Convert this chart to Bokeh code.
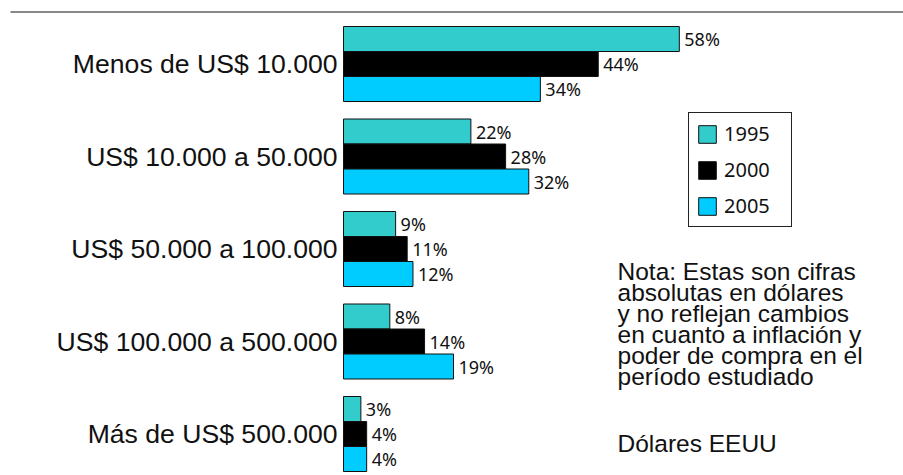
from bokeh.plotting import figure
from bokeh.models import ColumnDataSource, Range1d, Label, Legend
from bokeh.transform import dodge
from bokeh.core.properties import value
from bokeh.embed import file_html
from bokeh.resources import INLINE

categories = ["Menos de US$ 10.000", "US$ 10.000 a 50.000", "US$ 50.000 a 100.000",
              "US$ 100.000 a 500.000", "Más de US$ 500.000"]
years = ["1995", "2000", "2005"]
v1995 = [58, 22, 9, 8, 3]
v2000 = [44, 28, 11, 14, 4]
v2005 = [34, 32, 12, 19, 4]
note_text = ("Nota: Estas son cifras\nabsolutas en dólares\ny no reflejan cambios\n"
             "en cuanto a inflación y\npoder de compra en el\nperíodo estudiado")
currency_text = "Dólares EEUU"

colors = ["#33CCCC", "#000000", "#00CCFF"]
W, H = 903, 475
px_per = 5.79
x0 = -343 / px_per
grp = 92.5
y_top = -63.5 / grp
bar_h = 25 / grp


def xd(px):
    return x0 + px / px_per


def yd(py):
    return y_top + py / grp


p = figure(width=W, height=H, output_backend="svg", toolbar_location=None,
           x_range=Range1d(x0, x0 + W / px_per),
           y_range=Range1d(y_top + H / grp, y_top),
           x_axis_location=None, y_axis_location=None, min_border=0,
           outline_line_color=None)
p.xgrid.visible = False
p.ygrid.visible = False

# top rule
p.segment(x0=xd(10), x1=xd(903), y0=yd(11.5), y1=yd(11.5),
          line_color="#888888", line_width=2)

idx = list(range(len(categories)))
series = [v1995, v2000, v2005]
offsets = [-bar_h, 0, bar_h]
items = []
for yr, vals, col, off in zip(years, series, colors, offsets):
    src = ColumnDataSource(dict(idx=idx, v=vals, lab=[f"{v}%" for v in vals]))
    r = p.hbar(y=dodge("idx", off), left=0, right="v", height=bar_h, source=src,
               fill_color=col, line_color="#111111", line_width=1)
    items.append((yr, [r]))
    p.text(x="v", y=dodge("idx", off), text="lab", source=src, x_offset=5,
           text_baseline="middle", text_align="left", text_font=value("Noto Sans"),
           text_font_size="18px", text_color="#111111")

csrc = ColumnDataSource(dict(idx=idx, name=categories))
p.text(x=0, y="idx", text="name", source=csrc, x_offset=-6, text_align="right",
       text_baseline="middle", text_font=value("Liberation Sans"),
       text_font_size="26.6px", text_color="#111111")

legend = Legend(items=items, location=(688, 248), padding=7, spacing=9,
                glyph_width=22, glyph_height=22, label_height=22, label_width=60,
                label_standoff=6, label_text_font="Noto Sans",
                label_text_font_size="20px", label_text_color="#111111",
                border_line_color="#222222",
                border_line_alpha=1.0, border_line_width=1,
                background_fill_color="white", orientation="vertical")
p.add_layout(legend, "center")

p.add_layout(Label(x=xd(617), y=yd(257.5), text=note_text,
                   text_baseline="top", text_align="left", text_font="Liberation Sans",
                   text_font_size="24.5px", text_line_height=0.78, text_color="#111111"))
p.add_layout(Label(x=xd(617), y=yd(429), text=currency_text,
                   text_baseline="top", text_align="left", text_font="Liberation Sans",
                   text_font_size="24.5px", text_color="#111111"))

open("out.html", "w").write(file_html(p, INLINE))
